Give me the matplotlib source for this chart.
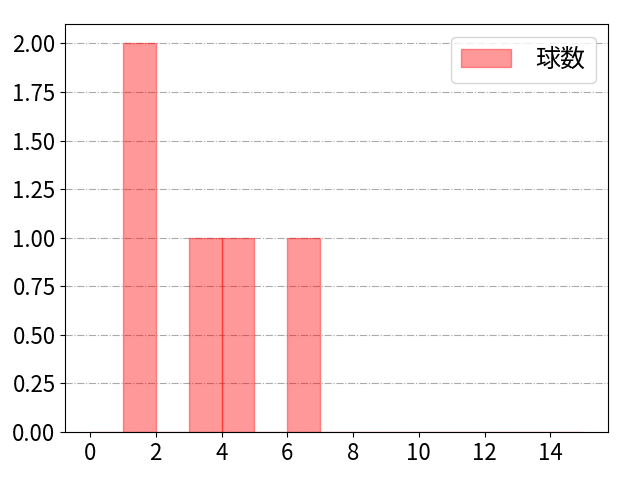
import matplotlib
matplotlib.use("Agg")
import matplotlib.pyplot as plt
from matplotlib.ticker import MultipleLocator

plt.rcParams['font.family'] = ['Noto Sans CJK JP', 'DejaVu Sans']

# pitch counts per observation
values = [1, 1, 3, 4, 6]
bins = list(range(16))
label = '球数'

fig, ax = plt.subplots(figsize=(6.4, 4.8), dpi=100)
ax.hist(values, bins=bins, color='red', alpha=0.4, edgecolor='red', label=label)
ax.grid(axis='y', linestyle='-.', color='#aaaaaa')
ax.set_axisbelow(True)
ax.xaxis.set_major_locator(MultipleLocator(2))
ax.tick_params(labelsize=16)
ax.legend(fontsize=18, handletextpad=1.0)
plt.subplots_adjust(left=0.102, right=0.95, top=0.95, bottom=0.1)
plt.savefig('out.png')
